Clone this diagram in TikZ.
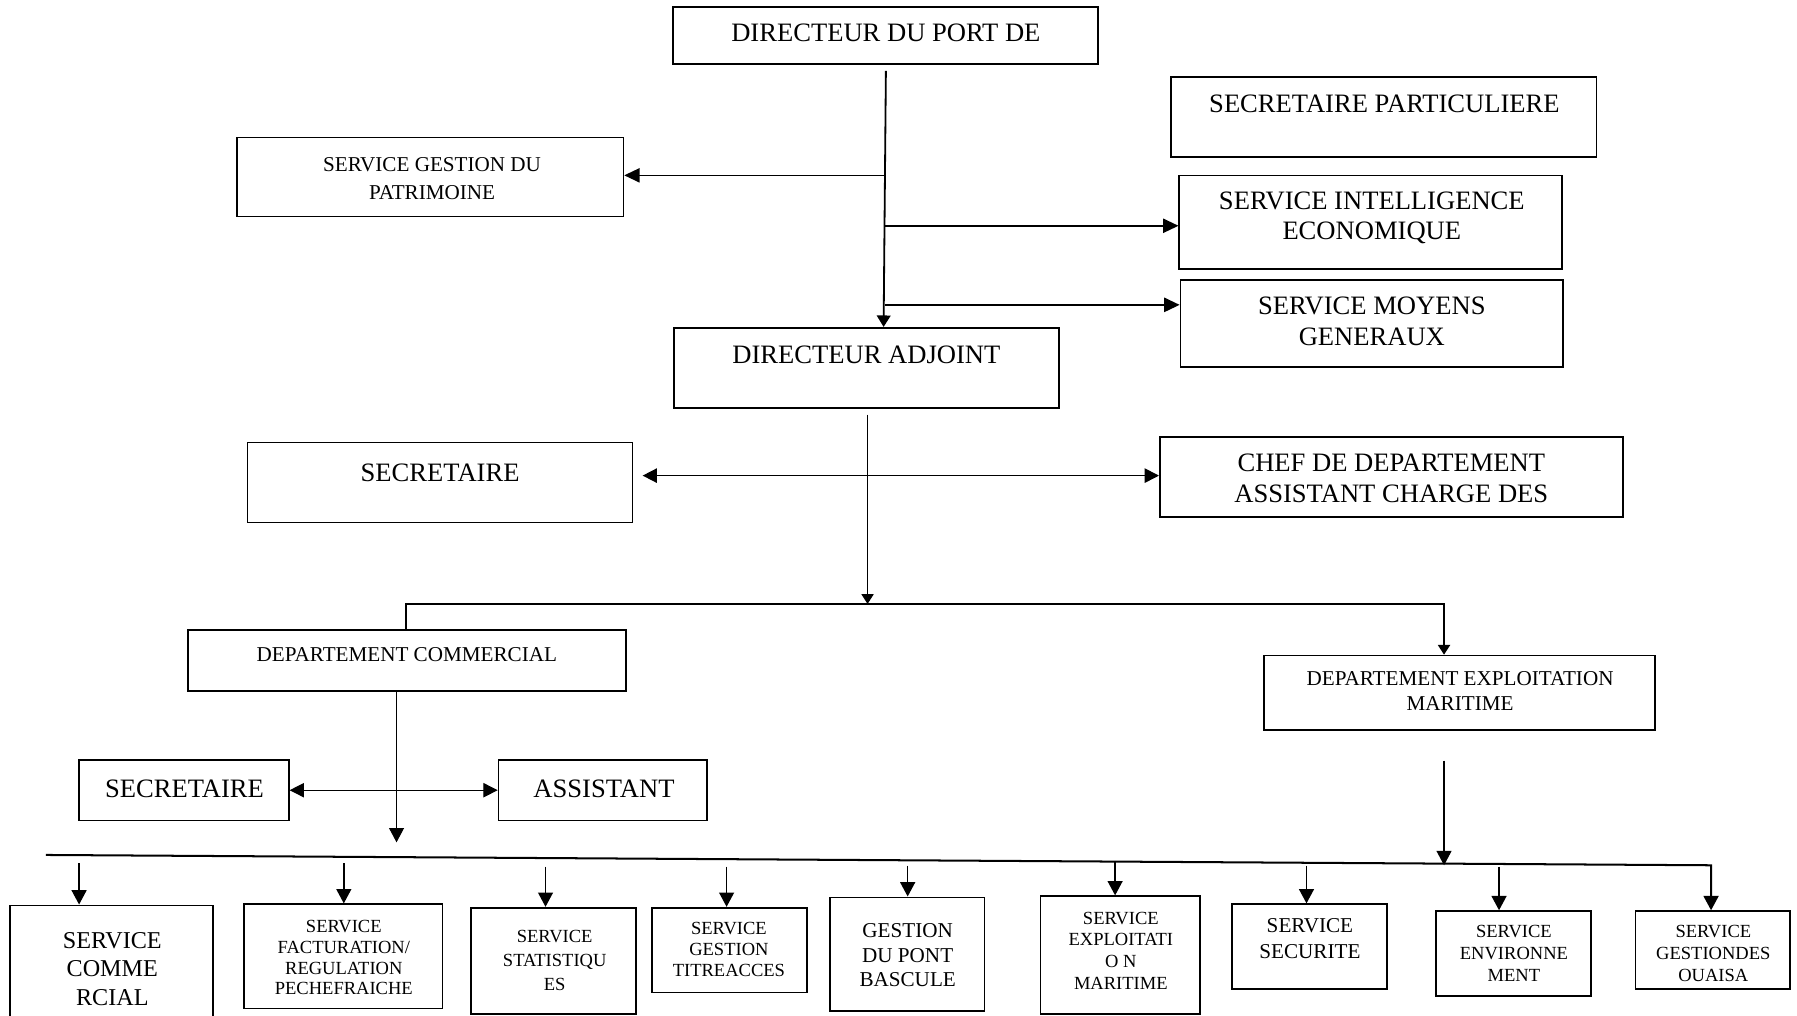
\documentclass[tikz,border=0pt]{standalone}
\usepackage{fontspec}
\setmainfont{Liberation Serif}
\usetikzlibrary{arrows.meta,calc}
\tikzset{
  box/.style={draw, rectangle, inner sep=0pt, line width=0.85pt},
  lbl/.style={inner sep=0pt, align=center},
  fL/.style={font=\fontsize{13.2}{14.8}\selectfont},
  fS/.style={font=\fontsize{10.5}{13.7}\selectfont},
  conn/.style={line width=0.8pt},
  thin/.style={line width=0.6pt},
  arr/.style={conn, -{Triangle[length=0.27cm, width=0.25cm]}},
  arrdown/.style={conn, -{Triangle[length=0.2cm, width=0.24cm]}},
  arrsmall/.style={conn, -{Triangle[length=0.17cm, width=0.21cm]}},
  arrbig/.style={conn, -{Triangle[length=0.25cm, width=0.26cm]}},
  dbl/.style={conn, {Triangle[length=0.25cm, width=0.25cm]}-{Triangle[length=0.25cm, width=0.25cm]}}
}
\begin{document}
\begin{tikzpicture}[x=0.02cm, y=-0.02cm]
\useasboundingbox (0,0) rectangle (1568,886);
\fill[white] (0,0) rectangle (1568,886);

% boxes
\node[box, minimum width=7.42cm, minimum height=1.0cm] (dir) at (772.5,31) {};
\node[box, minimum width=7.42cm, minimum height=1.4cm] (secpart) at (1207.5,102) {};
\node[box, minimum width=6.74cm, minimum height=1.38cm] (sgp) at (375.5,154.5) {};
\node[box, minimum width=6.68cm, minimum height=1.64cm] (sie) at (1196,194) {};
\node[box, minimum width=6.68cm, minimum height=1.52cm] (smg) at (1197,282) {};
\node[box, minimum width=6.72cm, minimum height=1.4cm] (dira) at (756,321) {};
\node[box, minimum width=6.72cm, minimum height=1.4cm] (sec1) at (384,421) {};
\node[box, minimum width=8.08cm, minimum height=1.4cm] (chef) at (1214,416) {};
\node[box, minimum width=7.64cm, minimum height=1.06cm] (dcom) at (355,576.5) {};
\node[box, minimum width=6.82cm, minimum height=1.3cm] (dexp) at (1273.5,604.5) {};
\node[box, minimum width=3.66cm, minimum height=1.06cm] (sec2) at (160.5,689.5) {};
\node[box, minimum width=3.64cm, minimum height=1.06cm] (asst) at (526,689.5) {};
\node[box, minimum width=3.54cm, minimum height=2.0cm] (b1) at (97.5,840) {};
\node[box, minimum width=3.46cm, minimum height=1.82cm] (b2) at (299.5,834.5) {};
\node[box, minimum width=2.88cm, minimum height=1.86cm] (b3) at (483,838.5) {};
\node[box, minimum width=2.7cm, minimum height=1.48cm] (b4) at (636.5,829) {};
\node[box, minimum width=2.7cm, minimum height=1.98cm] (b5) at (791.5,832.5) {};
\node[box, minimum width=2.78cm, minimum height=2.06cm] (b6) at (977.5,833.5) {};
\node[box, minimum width=2.7cm, minimum height=1.48cm] (b7) at (1142.5,826) {};
\node[box, minimum width=2.7cm, minimum height=1.48cm] (b8) at (1320.5,832) {};
\node[box, minimum width=2.7cm, minimum height=1.36cm] (b9) at (1494.5,829) {};

% texts
\node[lbl, fL] (tdir) at (773,29) {DIRECTEUR DU PORT DE};
\node[lbl, fL] (tsecpart) at (1208,91) {SECRETAIRE PARTICULIERE};
\node[lbl, fS] (tsgp) at (377,156) {SERVICE GESTION DU\\PATRIMOINE};
\node[lbl, font=\fontsize{13.2}{14.8}\selectfont] (tsie) at (1197,190) {SERVICE INTELLIGENCE\\ECONOMIQUE};
\node[lbl, font=\fontsize{13.2}{15.4}\selectfont] (tsmg) at (1197,280.5) {SERVICE MOYENS\\GENERAUX};
\node[lbl, fL] (tdira) at (756,310) {DIRECTEUR ADJOINT};
\node[lbl, fL] (tsec1) at (384,413) {SECRETAIRE};
\node[lbl, font=\fontsize{13.2}{15.4}\selectfont] (tchef) at (1214,417.5) {CHEF DE DEPARTEMENT\\ASSISTANT CHARGE DES};
\node[lbl, fS] (tdcom) at (355,571) {DEPARTEMENT COMMERCIAL};
\node[lbl, font=\fontsize{10.5}{12.5}\selectfont] (tdexp) at (1274,603) {DEPARTEMENT EXPLOITATION\\MARITIME};
\node[lbl, fL] (tsec2) at (161,688) {SECRETAIRE};
\node[lbl, fL] (tasst) at (527,688) {ASSISTANT};
\node[lbl, font=\fontsize{12}{14}\selectfont] (tb1) at (98,845.5) {SERVICE\\COMME\\RCIAL};
\node[lbl, font=\fontsize{9.2}{10.4}\selectfont] (tb2) at (300,835.5) {SERVICE\\FACTURATION/\\REGULATION\\PECHEFRAICHE};
\node[lbl, font=\fontsize{9.2}{12}\selectfont] (tb3) at (484,838) {SERVICE\\STATISTIQU\\ES};
\node[lbl, font=\fontsize{9.2}{10.5}\selectfont] (tb4) at (636,828.5) {SERVICE\\GESTION\\TITREACCES};
\node[lbl, font=\fontsize{10.5}{12.2}\selectfont] (tb5) at (792,833.5) {GESTION\\DU PONT\\BASCULE};
\node[lbl, font=\fontsize{9.2}{10.8}\selectfont] (tb6) at (978,829.5) {SERVICE\\EXPLOITATI\\O N\\MARITIME};
\node[lbl, font=\fontsize{10.5}{12.5}\selectfont] (tb7) at (1143,819) {SERVICE\\SECURITE};
\node[lbl, font=\fontsize{9.2}{10.8}\selectfont] (tb8) at (1321,832) {SERVICE\\ENVIRONNE\\MENT};
\node[lbl, font=\fontsize{9.2}{10.8}\selectfont] (tb9) at (1495,832) {SERVICE\\GESTIONDES\\OUAISA};

% top connectors
\coordinate (vtop) at ($(dir.south)+(0.5,5)$);
\draw[arrdown, line width=0.9pt] (vtop) -- ($(dira.north)+(15,0)$);
\coordinate (j1) at (772.8,153);
\coordinate (j2) at (772.5,197);
\coordinate (j3) at (771.8,266);
\draw[arr] (j1) -- (j1 -| sgp.east);
\draw[arr] (j2) -- (j2 -| sie.west);
\draw[arr] (j3) -- (j3 -| smg.west);

% directeur adjoint to bar
\coordinate (barc) at (757,527);
\draw[arrsmall, thin] ($(dira.south)+(1,5)$) -- (barc);
\coordinate (h1) at ($(sec1.east)+(8,-6)$);
\draw[dbl] (h1) -- (h1 -| chef.west);
\draw[conn] ([xshift=-0.02cm]dcom.north) |- (barc);
\draw[arrsmall, line width=0.9pt] (barc) -| ($(dexp.north)+(-13.5,0)$);

% departement commercial
\coordinate (c1) at (346,735);
\draw[arrbig, thin] ($(dcom.south)+(-9,0)$) -- (c1);
\draw[dbl, thin] (sec2.east) -- (asst.west);

% departement exploitation
\coordinate (c2) at (1260,755);
\draw[arrbig, thin] ($(dexp.south)+(-13.5,26)$) -- (c2);

% bus
\coordinate (bl) at (40,746);
\coordinate (br) at (1493,755);
\draw[arrbig, line width=1pt] (bl) -- (br) -- (br |- b9.north);

% short arrows to services
\draw[arrbig] ($(b1.north)+(-28.5,-36)$) -- ($(b1.north)+(-28.5,0)$);
\draw[arrbig] ($(b2.north)+(0.5,-35)$) -- ($(b2.north)+(0.5,0)$);
\draw[arrbig] ($(b3.north)+(-7,-35)$) -- ($(b3.north)+(-7,0)$);
\draw[arrbig] ($(b4.north)+(-2.5,-35)$) -- ($(b4.north)+(-2.5,0)$);
\draw[arrbig] ($(b5.north)+(0.5,-27)$) -- ($(b5.north)+(0.5,0)$);
\draw[arrbig] ($(b6.north)+(-4.5,-30)$) -- ($(b6.north)+(-4.5,0)$);
\draw[arrbig] ($(b7.north)+(-2.5,-33)$) -- ($(b7.north)+(-2.5,0)$);
\draw[arrbig] ($(b8.north)+(-12.5,-38)$) -- ($(b8.north)+(-12.5,0)$);
\end{tikzpicture}
\end{document}
